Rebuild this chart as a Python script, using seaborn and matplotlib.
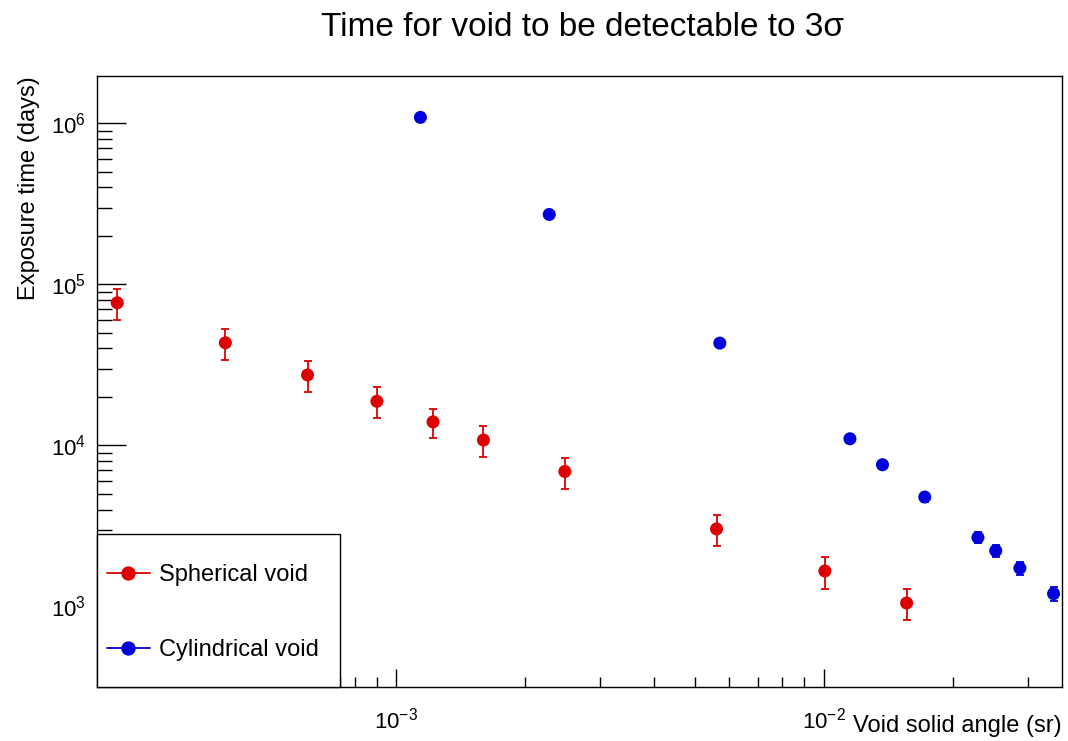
import numpy as np
import pandas as pd
import matplotlib
matplotlib.use("Agg")
import matplotlib.pyplot as plt
import seaborn as sns
from matplotlib.lines import Line2D
from matplotlib.patches import Rectangle
from matplotlib.ticker import FixedLocator, NullFormatter, LogFormatterSciNotation, LogLocator

# ---- data ----
sph_angle = [2.23e-4, 3.99e-4, 6.21e-4, 9.02e-4, 1.22e-3, 1.60e-3, 2.48e-3, 5.61e-3, 1.005e-2, 1.56e-2]
sph_time = [7.69e4, 4.34e4, 2.74e4, 1.88e4, 1.40e4, 1.08e4, 6.89e3, 3.03e3, 1.66e3, 1.05e3]
sph_err = [1.65e4, 9.3e3, 6.0e3, 4.1e3, 2.85e3, 2.35e3, 1.5e3, 6.6e2, 3.7e2, 2.3e2]

cyl_angle = [1.14e-3, 2.28e-3, 5.71e-3, 1.15e-2, 1.37e-2, 1.72e-2, 2.29e-2, 2.52e-2, 2.87e-2, 3.44e-2]
cyl_time = [1.09e6, 2.72e5, 4.32e4, 1.10e4, 7.59e3, 4.78e3, 2.68e3, 2.22e3, 1.73e3, 1.20e3]
cyl_err = [2.0e4, 5.0e3, 1.2e3, 5.0e2, 4.0e2, 3.0e2, 2.2e2, 1.9e2, 1.7e2, 1.2e2]

series_names = ["Spherical void", "Cylindrical void"]
series_colors = ["#dd0000", "#0000dd"]

x_major = [1e-3, 1e-2]
x_minor = [7.4e-4, 8e-4, 9e-4, 2e-3, 3e-3, 4e-3, 5e-3, 6e-3, 7e-3, 8e-3, 9e-3, 2e-2, 3e-2]

# ---- style ----
sns.set_style("ticks")
plt.rcParams["font.family"] = ["Liberation Sans", "DejaVu Sans"]
plt.rcParams["mathtext.fontset"] = "custom"
plt.rcParams["mathtext.rm"] = "Liberation Sans"
plt.rcParams["mathtext.it"] = "Liberation Sans:italic"
plt.rcParams["mathtext.bf"] = "Liberation Sans:bold"
plt.rcParams["text.color"] = "black"
plt.rcParams["axes.labelcolor"] = "black"

df = pd.concat([
    pd.DataFrame({"angle": sph_angle, "time": sph_time, "err": sph_err, "kind": series_names[0]}),
    pd.DataFrame({"angle": cyl_angle, "time": cyl_time, "err": cyl_err, "kind": series_names[1]}),
], ignore_index=True)
palette = dict(zip(series_names, series_colors))

fig = plt.figure(figsize=(10.68, 7.41), dpi=100)
ax = fig.add_axes([97 / 1068, 1 - 687 / 741, 965 / 1068, 611 / 741])
ax.set_xscale("log")
ax.set_yscale("log")

for name in series_names:
    sub = df[df["kind"] == name]
    ax.errorbar(sub["angle"], sub["time"], yerr=sub["err"], fmt="none",
                ecolor=palette[name], elinewidth=1.3, capsize=2.8, capthick=1.3, zorder=2)

sns.scatterplot(data=df, x="angle", y="time", hue="kind", palette=palette,
                s=88, linewidth=0, legend=False, ax=ax, zorder=3)

ax.set_xlim(2.0e-4, 3.6e-2)
ax.set_ylim(3.16e2, 1.97e6)

# ticks
ax.xaxis.set_major_locator(FixedLocator(x_major))
ax.xaxis.set_minor_locator(FixedLocator(x_minor))
ax.xaxis.set_major_formatter(LogFormatterSciNotation())
ax.xaxis.set_minor_formatter(NullFormatter())
ax.yaxis.set_major_locator(LogLocator(base=10, numticks=20))
ax.yaxis.set_minor_locator(LogLocator(base=10, subs=np.arange(2, 10), numticks=20))
ax.yaxis.set_minor_formatter(NullFormatter())

ax.tick_params(which="both", direction="in", top=False, right=False, colors="black",
               width=1.0, labelsize=16)
ax.tick_params(axis="y", which="major", length=21, pad=8)
ax.tick_params(axis="y", which="minor", length=10.5)
ax.tick_params(axis="x", which="major", length=13, pad=15)
ax.tick_params(axis="x", which="minor", length=7.5)

for s in ax.spines.values():
    s.set_color("black")
    s.set_linewidth(1.0)

ax.set_xlabel("Void solid angle (sr)", fontsize=17, loc="right", color="black")
ax.xaxis.set_label_coords(1.0, -0.046)
ax.set_ylabel("Exposure time (days)", fontsize=17, loc="top", color="black")
ax.yaxis.set_label_coords(-0.059, 1.0)

fig.text(583 / 1068, 1 - 27 / 741, "Time for void to be detectable to 3σ",
         fontsize=24, ha="center", va="center", color="black")

# legend box (opaque, like ROOT)
ax.add_patch(Rectangle((0, 0), 243 / 965, 153 / 611, transform=ax.transAxes,
                       facecolor="white", edgecolor="black", lw=1.0, zorder=4, clip_on=False))
handles = [Line2D([], [], color=c, marker="o", markersize=9.3, lw=1.3) for c in series_colors]
leg = ax.legend(handles, series_names, loc="center left", bbox_to_anchor=(10 / 965, 74.5 / 611),
                frameon=False, fontsize=17, handlelength=1.82, handletextpad=0.38,
                labelspacing=2.25, borderpad=0, borderaxespad=0)
for t in leg.get_texts():
    t.set_color("black")
leg.set_zorder(5)

fig.savefig("out.png", dpi=100)
